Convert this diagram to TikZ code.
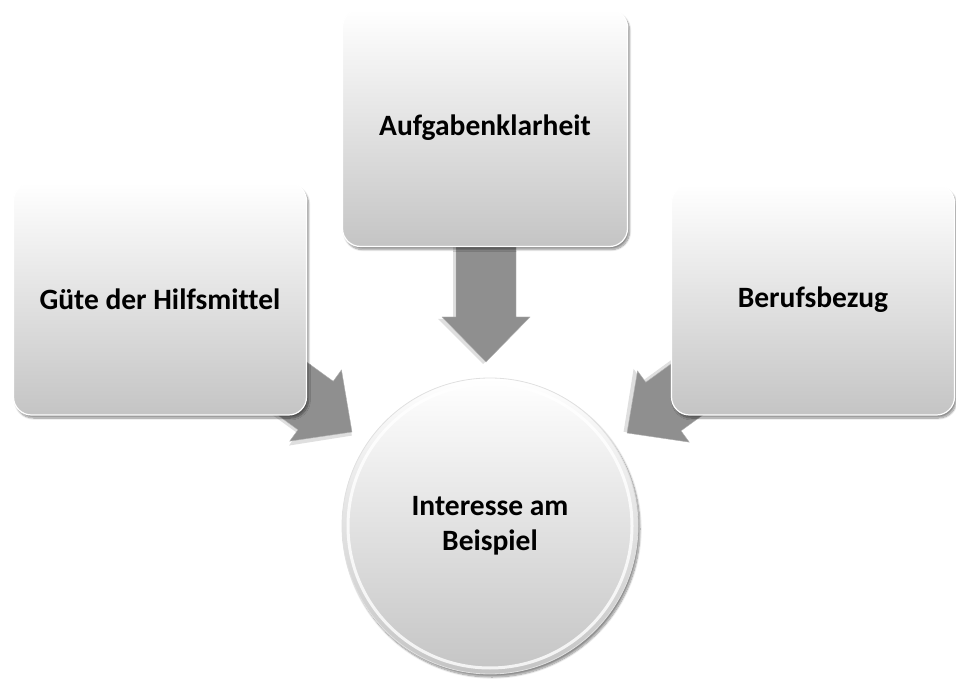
\documentclass[tikz,border=0pt]{standalone}
\usepackage{fontspec}
\setmainfont{Carlito}[Ligatures=NoCommon]
\usetikzlibrary{shadows.blur}
\begin{document}
\begin{tikzpicture}[x=1pt,y=-1pt,
  boxst/.style={rectangle, rounded corners=18pt, top color=white, bottom color=black!23,
    draw=white, line width=1.2pt, inner sep=0pt,
    blur shadow={shadow xshift=2pt, shadow yshift=-3pt, shadow blur steps=10, shadow opacity=45},
    font=\fontsize{29.5}{35}\selectfont\bfseries},
  circst/.style={circle, top color=white, bottom color=black!23, draw=black!12, line width=0.8pt,
    inner sep=0pt, align=center,
    blur shadow={shadow xshift=2pt, shadow yshift=-3pt, shadow blur steps=10, shadow opacity=45},
    font=\fontsize{29.5}{35}\selectfont\bfseries},
  arrowst/.style={fill=black!44, draw=black!30, line width=0.4pt}
]
\useasboundingbox (0,0) rectangle (956,684);

% arrow tips
\coordinate (tipT) at (486,362);
\coordinate (tipL) at (352,432);
\coordinate (tipR) at (627,433);

\foreach \t/\a in {tipT/-90, tipL/-36, tipR/-144}{
  \begin{scope}[shift={(\t)}, rotate=\a, x=1pt, y=1pt]
    \fill[black!25, opacity=0.5] (2,-3) -- (-43,42) -- (-43,27) -- (-140,27) -- (-140,-33) -- (-43,-33) -- (-43,-48) -- cycle;
    \path[arrowst] (0,0) -- (-45,44) -- (-45,30) -- (-140,30) -- (-140,-30) -- (-45,-30) -- (-45,-44) -- cycle;
  \end{scope}
}

\node[boxst, minimum width=285, minimum height=237] (top) at (485,128) {Aufgabenklarheit};
\node[boxst, minimum width=293, minimum height=232] (left) at (160,299) {Güte der Hilfsmittel};
\node[boxst, minimum width=283, minimum height=230] (right) at (813,300) {Berufsbezug};
\node[circst, minimum size=296] (goal) at (490,526) {Interesse am\\Beispiel};
\draw[white, line width=3pt, opacity=0.8] (goal.center) circle[radius=142];
\end{tikzpicture}
\end{document}
